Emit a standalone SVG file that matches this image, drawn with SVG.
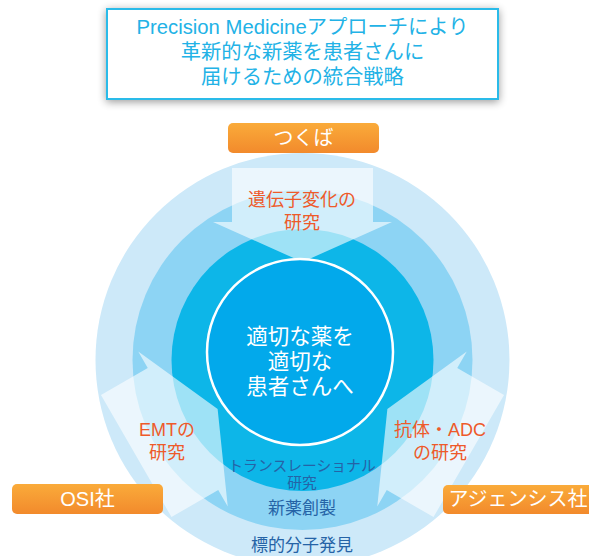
<svg xmlns="http://www.w3.org/2000/svg" width="589" height="556" viewBox="0 0 589 556">
  <style>
    .jp { font-family: "Liberation Sans", "Noto Sans CJK JP", sans-serif; }
    .title { fill: #22b2e6; font-size: 20.3px; text-anchor: middle; }
    .tag { fill: #ffffff; font-size: 20px; text-anchor: middle; }
    .topic { fill: #ee5a2a; font-size: 18px; text-anchor: middle; }
    .core { fill: #ffffff; font-size: 21.5px; text-anchor: middle; }
    .stage { fill: #2563a6; text-anchor: middle; }
    .arrow { fill: #ffffff; fill-opacity: 0.6; }
  </style>
  <defs>
    <linearGradient id="orange" x1="0" y1="0" x2="0" y2="1">
      <stop offset="0" stop-color="#faab3a"/>
      <stop offset="1" stop-color="#f28a2c"/>
    </linearGradient>
    <filter id="shadow" x="-10%" y="-30%" width="120%" height="160%">
      <feGaussianBlur in="SourceAlpha" stdDeviation="4"/>
      <feOffset dx="0" dy="2" result="b"/>
      <feComponentTransfer><feFuncA type="linear" slope="0.4"/></feComponentTransfer>
      <feMerge><feMergeNode/><feMergeNode in="SourceGraphic"/></feMerge>
    </filter>
    <!-- inward arrow, drawn pointing down from the top position -->
    <path id="inArrow" d="M232,168 H373 V222 H392 L302.5,262 L213,222 H232 Z"/>
  </defs>

  <rect width="589" height="556" fill="#ffffff"/>

  <!-- title box -->
  <g id="title">
    <rect x="107" y="9" width="391" height="90" fill="#ffffff" stroke="#2bbbe9" stroke-width="2" filter="url(#shadow)"/>
    <text class="jp title" x="302.5" y="34">Precision Medicineアプローチにより<tspan x="302.5" dy="25">革新的な新薬を患者さんに</tspan><tspan x="302.5" dy="25">届けるための統合戦略</tspan></text>
  </g>

  <!-- concentric stages -->
  <g id="rings">
    <circle cx="302.5" cy="360" r="207" fill="#cde9f9"/>
    <circle cx="302.5" cy="360" r="170" fill="#8dd4f4"/>
    <circle cx="302.5" cy="360" r="131" fill="#0db6e8"/>
  </g>

  <!-- three research streams flowing inward -->
  <g id="connectors">
    <use href="#inArrow" class="arrow"/>
    <use href="#inArrow" class="arrow" transform="rotate(-120 302.5 360)"/>
    <use href="#inArrow" class="arrow" transform="rotate(120 302.5 360)"/>
  </g>

  <g id="core">
    <circle cx="300" cy="352" r="93" fill="#02a9eb" stroke="#ffffff" stroke-width="2.5"/>
    <text class="jp core" x="300" y="344">適切な薬を<tspan x="300" dy="25">適切な</tspan><tspan x="300" dy="25">患者さんへ</tspan></text>
  </g>

  <g id="stage-translational">
    <text class="jp stage" x="302" y="471" font-size="14.8">トランスレーショナル<tspan x="302" dy="16.6">研究</tspan></text>
  </g>
  <g id="stage-discovery">
    <text class="jp stage" x="302" y="514" font-size="17">新薬創製</text>
  </g>
  <g id="stage-target">
    <text class="jp stage" x="302" y="551" font-size="17">標的分子発見</text>
  </g>

  <g id="topic-gene">
    <text class="jp topic" x="302" y="206">遺伝子変化の<tspan x="302" dy="23">研究</tspan></text>
  </g>
  <g id="topic-emt">
    <text class="jp topic" x="167" y="436">EMTの<tspan x="167" dy="23">研究</tspan></text>
  </g>
  <g id="topic-adc">
    <text class="jp topic" x="440" y="436">抗体・ADC<tspan x="440" dy="23">の研究</tspan></text>
  </g>

  <g id="site-tsukuba">
    <rect x="228" y="123" width="151" height="30" rx="5" fill="url(#orange)"/>
    <text class="jp tag" x="303.5" y="145">つくば</text>
  </g>
  <g id="site-osi">
    <rect x="12" y="484" width="151" height="30" rx="5" fill="url(#orange)"/>
    <text class="jp tag" x="87.5" y="506">OSI社</text>
  </g>
  <g id="site-agensys">
    <rect x="443" y="485" width="160" height="29" rx="5" fill="url(#orange)"/>
    <text class="jp tag" x="518" y="506">アジェンシス社</text>
  </g>
</svg>
